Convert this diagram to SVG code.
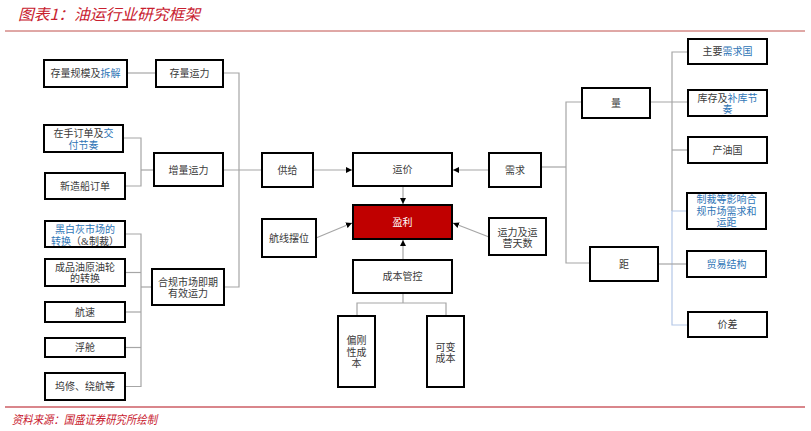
<svg xmlns="http://www.w3.org/2000/svg" width="811" height="431" viewBox="0 0 811 431">
<style>
.box{fill:#fff;stroke:#000;stroke-width:2}
.red{fill:#C00000;stroke:#000;stroke-width:2}
.t{font-family:"Liberation Serif","Noto Sans CJK SC",serif;font-size:10px;fill:#3a3a3a;text-anchor:middle}
.w{fill:#fff}
.b{fill:#2E75B6}
.ln{fill:none;stroke:#A6A6A6;stroke-width:1.2}
.lb{fill:none;stroke:#B4C7E7;stroke-width:1.2}
.ar{fill:none;stroke:#A6A6A6;stroke-width:1.2;marker-end:url(#ah)}
.hd{font-family:"Noto Sans CJK SC",sans-serif;font-style:italic;fill:#C8202E}
</style>
<defs>
<marker id="ah" viewBox="0 0 6 6" refX="6" refY="3" markerWidth="6" markerHeight="6" markerUnits="userSpaceOnUse" orient="auto">
<path d="M0,0 L6,3 L0,6 Z" fill="#000"/>
</marker>
</defs>
<rect width="811" height="431" fill="#fff"/>
<text class="hd" x="18" y="20" font-size="15.5" textLength="182" lengthAdjust="spacingAndGlyphs">图表1：油运行业研究框架</text>
<line x1="5" y1="31" x2="805" y2="31" stroke="#C0504D" stroke-width="1"/>
<line x1="5" y1="407" x2="805" y2="407" stroke="#D9868B" stroke-width="2"/>
<text class="hd" x="12" y="424" font-size="12" textLength="145" lengthAdjust="spacingAndGlyphs">资料来源：国盛证券研究所绘制</text>

<g id="connectors">
<line class="ln" x1="127" y1="73" x2="156" y2="73"/>
<polyline class="ln" points="223,73 239,73 239,287 224,287"/>
<line class="ln" x1="223" y1="170" x2="262" y2="170"/>
<polyline class="ln" points="123,138 141,138 141,186 125,186"/>
<line class="ln" x1="141" y1="170" x2="154" y2="170"/>
<polyline class="ln" points="125,234 141,234 141,386.5 125,386.5"/>
<line class="ln" x1="125" y1="272.5" x2="141" y2="272.5"/>
<line class="ln" x1="125" y1="312" x2="141" y2="312"/>
<line class="ln" x1="125" y1="347.5" x2="141" y2="347.5"/>
<line class="ln" x1="141" y1="287" x2="152" y2="287"/>
<line class="ar" x1="313" y1="170" x2="352" y2="170"/>
<line class="ar" x1="403" y1="186" x2="403" y2="204"/>
<line class="ar" x1="403" y1="260" x2="403" y2="240"/>
<line class="ar" x1="316" y1="238" x2="352" y2="223"/>
<line class="ar" x1="489" y1="170" x2="453" y2="170"/>
<line class="ar" x1="489" y1="237" x2="453" y2="223"/>
<polyline class="ln" points="403,293 403,303"/>
<polyline class="ln" points="357,316 357,303 446,303 446,316"/>
<line class="ln" x1="541" y1="167" x2="566" y2="167"/>
<polyline class="ln" points="582,102 566,102 566,263 590,263"/>
<line class="ln" x1="650" y1="102" x2="688" y2="102"/>
<polyline class="ln" points="688,52 672,52 672,211"/>
<line class="ln" x1="672" y1="150" x2="688" y2="150"/>
<polyline class="lb" points="687,211 672,211 672,325 688,325"/>
<line class="ln" x1="658" y1="264" x2="687" y2="264"/>
</g>

<g id="n_czgm"><rect class="box" x="44" y="60" width="83" height="27"/><text class="t" x="85.5" y="77">存量规模及<tspan class="b">拆解</tspan></text></g>
<g id="n_clyl"><rect class="box" x="156" y="60" width="67" height="27"/><text class="t" x="189.5" y="77">存量运力</text></g>
<g id="n_zsdd"><rect class="box" x="44" y="125" width="79" height="27"/><text class="t" x="83.5" y="137">在手订单及<tspan class="b">交</tspan></text><text class="t b" x="83.5" y="149">付节奏</text></g>
<g id="n_xzc"><rect class="box" x="45" y="173" width="80" height="26"/><text class="t" x="85" y="189.5">新造船订单</text></g>
<g id="n_zlyl"><rect class="box" x="154" y="153" width="69" height="33"/><text class="t" x="188.5" y="173.5">增量运力</text></g>
<g id="n_hbh"><rect class="box" x="45" y="221" width="80" height="26"/><text class="t b" x="85" y="232.5">黑白灰市场的</text><text class="t" x="85" y="244.5"><tspan class="b">转换</tspan>（&amp;制裁）</text></g>
<g id="n_cpy"><rect class="box" x="45" y="259" width="80" height="27"/><text class="t" x="85" y="270.5">成品油原油轮</text><text class="t" x="85" y="281.5">的转换</text></g>
<g id="n_hs"><rect class="box" x="45" y="302" width="80" height="20"/><text class="t" x="85" y="315.5">航速</text></g>
<g id="n_fc"><rect class="box" x="45" y="338" width="80" height="19"/><text class="t" x="85" y="351">浮舱</text></g>
<g id="n_wx"><rect class="box" x="45" y="373" width="80" height="27"/><text class="t" x="85" y="390">坞修、绕航等</text></g>
<g id="n_hg"><rect class="box" x="152" y="269" width="72" height="36"/><text class="t" x="188" y="285.5">合规市场即期</text><text class="t" x="188" y="296.5">有效运力</text></g>
<g id="n_gj"><rect class="box" x="262" y="153" width="51" height="34"/><text class="t" x="287.5" y="173.5">供给</text></g>
<g id="n_yj"><rect class="box" x="353" y="153" width="99" height="33"/><text class="t" x="402.5" y="173">运价</text></g>
<g id="n_yl"><rect class="red" x="353" y="205" width="99" height="34"/><text class="t w" x="402.5" y="225.5">盈利</text></g>
<g id="n_hxbw"><rect class="box" x="262" y="219" width="54" height="38"/><text class="t" x="289" y="241.5">航线摆位</text></g>
<g id="n_cbgk"><rect class="box" x="353" y="260" width="99" height="33"/><text class="t" x="402.5" y="280">成本管控</text></g>
<g id="n_pgx"><rect class="box" x="338" y="316" width="37" height="71"/><text class="t" x="356.5" y="343.5">偏刚</text><text class="t" x="356.5" y="355.5">性成</text><text class="t" x="356.5" y="367">本</text></g>
<g id="n_kbcb"><rect class="box" x="427" y="316" width="37" height="71"/><text class="t" x="445.5" y="350.5">可变</text><text class="t" x="445.5" y="361.5">成本</text></g>
<g id="n_xq"><rect class="box" x="489" y="153" width="52" height="34"/><text class="t" x="515" y="173.5">需求</text></g>
<g id="n_ylts"><rect class="box" x="489" y="218" width="57" height="37"/><text class="t" x="517.5" y="235.5">运力及运</text><text class="t" x="517.5" y="246.5">营天数</text></g>
<g id="n_l"><rect class="box" x="582" y="88" width="68" height="30"/><text class="t" x="616" y="106.5">量</text></g>
<g id="n_jl"><rect class="box" x="590" y="247" width="68" height="34"/><text class="t" x="624" y="267.5">距</text></g>
<g id="n_zyxq"><rect class="box" x="688" y="39" width="79" height="25"/><text class="t" x="727.5" y="55">主要<tspan class="b">需求国</tspan></text></g>
<g id="n_kc"><rect class="box" x="688" y="90" width="79" height="26"/><text class="t" x="727.5" y="101.5">库存及<tspan class="b">补库节</tspan></text><text class="t b" x="727.5" y="112.5">奏</text></g>
<g id="n_cyg"><rect class="box" x="688" y="137" width="79" height="26"/><text class="t" x="727.5" y="153.5">产油国</text></g>
<g id="n_zc"><rect class="box" x="687" y="193" width="79" height="36"/><text class="t b" x="726.5" y="202.5">制裁等影响合</text><text class="t b" x="726.5" y="214.5">规市场需求和</text><text class="t b" x="726.5" y="226">运距</text></g>
<g id="n_my"><rect class="box" x="687" y="251" width="79" height="26"/><text class="t b" x="726.5" y="267.5">贸易结构</text></g>
<g id="n_jc"><rect class="box" x="688" y="312" width="79" height="25"/><text class="t" x="727.5" y="328">价差</text></g>
</svg>
